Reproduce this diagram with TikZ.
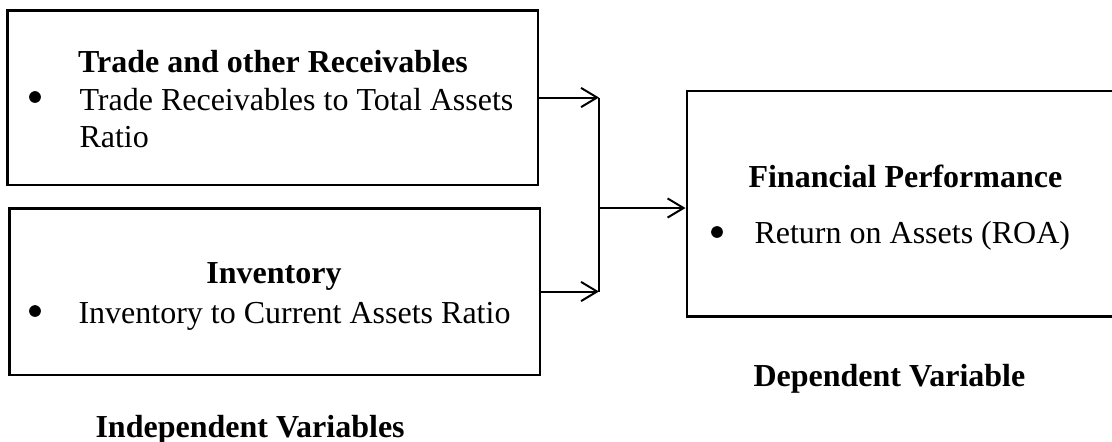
\documentclass[tikz,border=0pt]{standalone}
\usepackage{fontspec}
\setmainfont{Liberation Serif}
\usetikzlibrary{arrows.meta}
\begin{document}
\begin{tikzpicture}[x=0.375pt,y=-0.375pt,
  box/.style={draw,line width=1.1pt,inner sep=0pt},
  txt/.style={inner sep=0pt,font=\fontsize{12}{14}\selectfont},
  head/.style={inner sep=0pt,font=\fontsize{12}{14}\selectfont\bfseries},
  bul/.style={circle,fill,inner sep=0pt,minimum size=4.4pt},
  arr/.style={line width=0.75pt,-{Straight Barb[length=6pt,width=7.2pt,line width=0.75pt]}},
  thin/.style={line width=0.45pt}]
\useasboundingbox (0,0) rectangle (1112,441);
% boxes
\node[box,minimum width=199.1pt,minimum height=65.6pt] (b1) at (272.5,97.5) {};
\node[box,minimum width=199.1pt,minimum height=62.6pt] (b2) at (274.5,291.5) {};
\node[box,minimum width=162.4pt,minimum height=84.4pt] (b3) at (903.5,203.5) {};
% texts box 1
\node[head,anchor=base] (h1) at (273,72) {Trade and other Receivables};
\node[bul] (u1) at (35,97) {};
\node[txt,anchor=base west] (l1) at (79,110) {Trade Receivables to Total Assets};
\node[txt,anchor=base west] (l1b) at (79,147) {Ratio};
% texts box 2
\node[head,anchor=base] (h2) at (274,283) {Inventory};
\node[bul] (u2) at (35,311) {};
\node[txt,anchor=base west] (l2) at (78,323) {Inventory to Current Assets Ratio};
% texts box 3
\node[head,anchor=base west] (h3) at (748,187) {Financial Performance};
\node[bul] (u3) at (717,232) {};
\node[txt,anchor=base west] (l3) at (754,243) {Return on Assets (ROA)};
% captions
\node[head,anchor=base west] (iv) at (95,437) {Independent Variables};
\node[head,anchor=base west] (dv) at (753,386) {Dependent Variable};
% connectors
\coordinate (jt) at (599,98);
\coordinate (jb) at (599,292);
\coordinate (jm) at (599,208);
\draw[arr] (b1.east) -- (b1.east -| jt);
\draw[arr] (b2.east) -- (b2.east -| jb);
\draw[thin] (jt) -- (jb);
\draw[arr] (jm) -- (jm -| b3.west);
\end{tikzpicture}
\end{document}
